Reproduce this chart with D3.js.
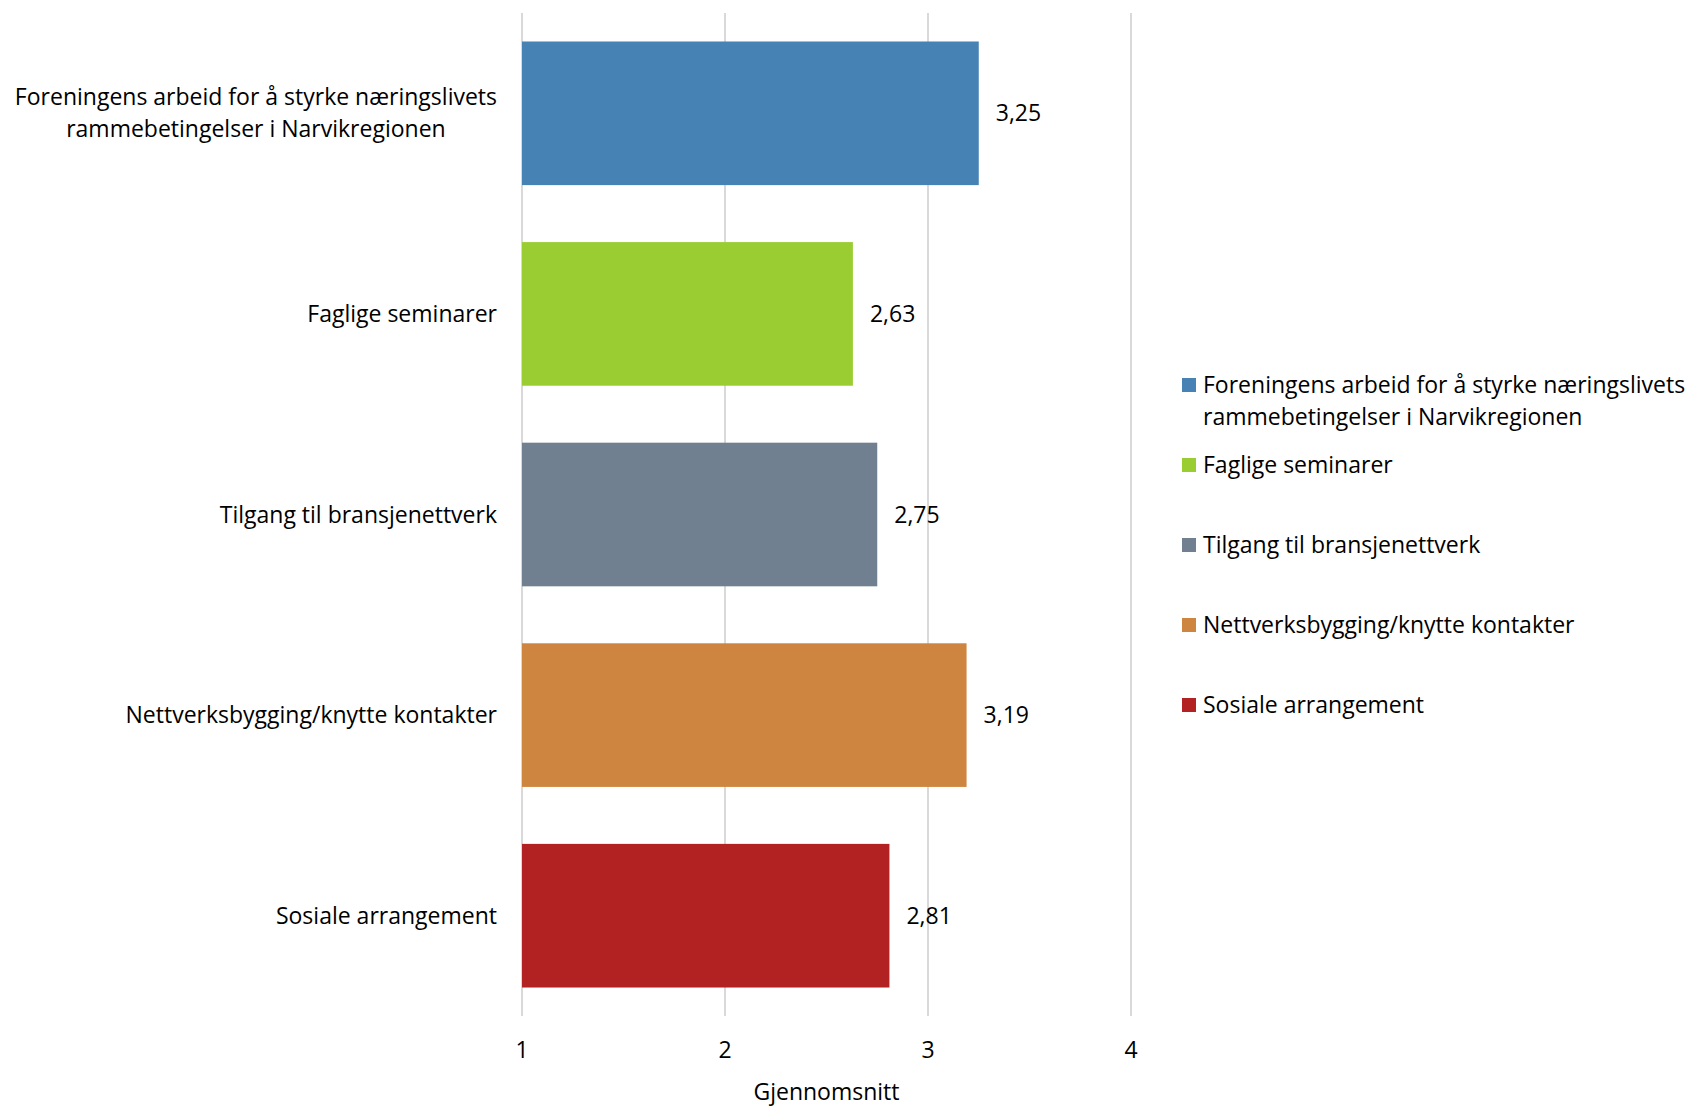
<!DOCTYPE html>
<html>
<head>
<meta charset="utf-8">
<script src="https://cdn.jsdelivr.net/npm/d3@7"></script>
<style>
  body { margin: 0; background: #fff; }
  text { font-family: "Open Sans", "Liberation Sans", Arial, sans-serif; fill: #000; }
</style>
</head>
<body>
<svg width="1694" height="1106"></svg>
<script>
var categories = [
  "Foreningens arbeid for å styrke næringslivets rammebetingelser i Narvikregionen",
  "Faglige seminarer",
  "Tilgang til bransjenettverk",
  "Nettverksbygging/knytte kontakter",
  "Sosiale arrangement"
];
var values = [3.25, 2.63, 2.75, 3.19, 2.81];
var colors = ["#4682B4", "#9ACD32", "#708090", "#CD853F", "#B22222"];
var xTicks = [1, 2, 3, 4];
var xTitle = "Gjennomsnitt";

var svg = d3.select("svg"),
  fontSize = 23;

var x = d3.scaleLinear().domain([1, 4]).range([522, 1131]);
var y = d3.scaleBand()
  .domain(categories)
  .range([13, 1016])
  .paddingInner(0.284)
  .paddingOuter(0.142);

var fmt = function (v) { return d3.format(".2f")(v).replace(".", ","); };

// wrap text into tspans given a max width
function wrap(textSel, maxWidth, lineHeight) {
  textSel.each(function (d) {
    var t = d3.select(this),
      words = t.text().split(/\s+/),
      line = [],
      lines = [];
    t.text(null);
    var probe = t.append("tspan");
    words.forEach(function (w) {
      line.push(w);
      probe.text(line.join(" "));
      if (probe.node().getComputedTextLength() > maxWidth && line.length > 1) {
        line.pop();
        lines.push(line.join(" "));
        line = [w];
      }
    });
    lines.push(line.join(" "));
    probe.remove();
    var anchorX = t.attr("x");
    lines.forEach(function (l, i) {
      t.append("tspan").attr("x", anchorX).attr("dy", i === 0 ? "0.35em" : lineHeight).text(l);
    });
    t.attr("data-lines", lines.length);
  });
}

// gridlines
svg.append("g")
  .selectAll("line")
  .data(xTicks)
  .enter().append("line")
  .attr("x1", function (d) { return x(d); })
  .attr("x2", function (d) { return x(d); })
  .attr("y1", 13)
  .attr("y2", 1016)
  .attr("stroke", "#d9d9d9")
  .attr("stroke-width", 2);

// bars
svg.append("g")
  .selectAll("rect")
  .data(categories)
  .enter().append("rect")
  .attr("x", x(1))
  .attr("y", function (d) { return y(d); })
  .attr("width", function (d, i) { return x(values[i]) - x(1); })
  .attr("height", y.bandwidth())
  .attr("fill", function (d, i) { return colors[i]; });

// value labels
svg.append("g")
  .selectAll("text")
  .data(categories)
  .enter().append("text")
  .attr("x", function (d, i) { return x(values[i]) + 17; })
  .attr("y", function (d) { return y(d) + y.bandwidth() / 2; })
  .attr("dy", "0.35em")
  .style("font-size", fontSize + "px")
  .text(function (d, i) { return fmt(values[i]); });

// category labels (multi-line ones are centred inside their block)
var lineH = 32, labelRight = 497;
var catLabels = svg.append("g")
  .selectAll("text")
  .data(categories)
  .enter().append("text")
  .attr("x", labelRight)
  .attr("text-anchor", "end")
  .style("font-size", fontSize + "px")
  .text(function (d) { return d; });
wrap(catLabels, 500, lineH);
catLabels.each(function (d) {
  var t = d3.select(this),
    n = +t.attr("data-lines");
  t.attr("y", y(d) + y.bandwidth() / 2 - (n - 1) * lineH / 2);
  if (n > 1) {
    var maxW = d3.max(t.selectAll("tspan").nodes(), function (s) { return s.getComputedTextLength(); });
    var cx = labelRight - maxW / 2;
    t.attr("text-anchor", "middle").attr("x", cx);
    t.selectAll("tspan").attr("x", cx);
  }
});

// x axis tick labels
svg.append("g")
  .selectAll("text")
  .data(xTicks)
  .enter().append("text")
  .attr("x", function (d) { return x(d); })
  .attr("y", 1050)
  .attr("dy", "0.35em")
  .attr("text-anchor", "middle")
  .style("font-size", fontSize + "px")
  .text(function (d) { return d; });

svg.append("text")
  .attr("x", (x(1) + x(4)) / 2)
  .attr("y", 1092)
  .attr("dy", "0.35em")
  .attr("text-anchor", "middle")
  .style("font-size", fontSize + "px")
  .text(xTitle);

// legend
var legend = svg.append("g")
  .selectAll("g")
  .data(categories)
  .enter().append("g")
  .attr("transform", function (d, i) { return "translate(1182," + (385 + i * 80) + ")"; });

legend.append("rect")
  .attr("x", 0)
  .attr("y", -7)
  .attr("width", 14)
  .attr("height", 14)
  .attr("fill", function (d, i) { return colors[i]; });

var legText = legend.append("text")
  .attr("x", 21)
  .attr("y", 0)
  .style("font-size", fontSize + "px")
  .text(function (d) { return d; });
wrap(legText, 500, lineH);
</script>
</body>
</html>
